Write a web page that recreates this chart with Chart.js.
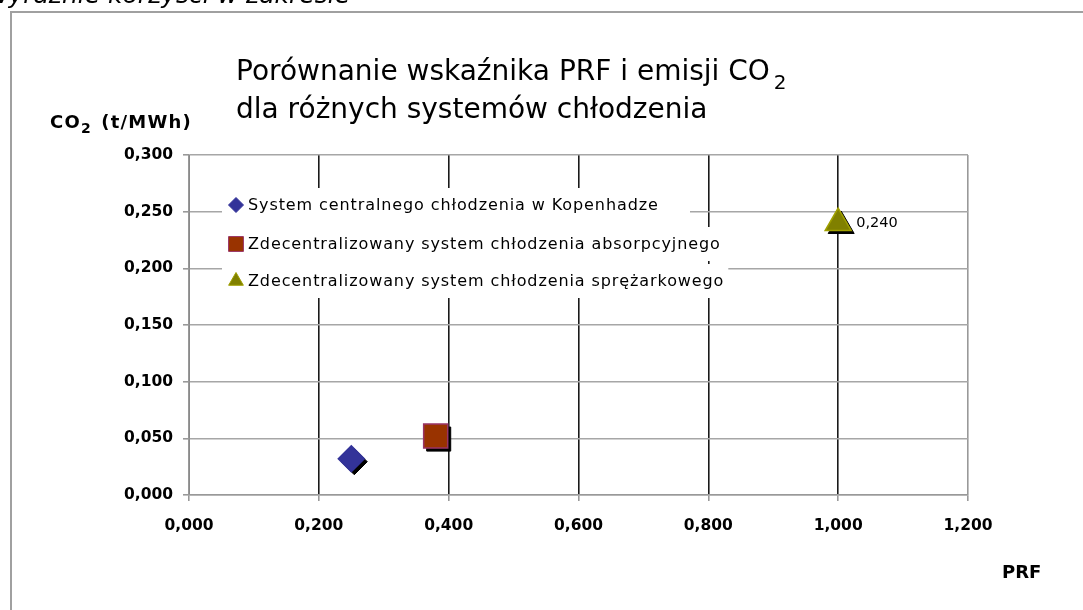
<!DOCTYPE html>
<html>
<head>
<meta charset="utf-8">
<script src="https://cdn.jsdelivr.net/npm/chart.js@4.4.0/dist/chart.umd.min.js"></script>
<style>
  html, body { margin: 0; padding: 0; background: #fff; }
  #wrap { width: 1083px; height: 610px; }
</style>
</head>
<body>
<div id="wrap"><canvas id="myChart" width="1083" height="610"></canvas></div>
<script>
'use strict'

// data
const seriesNames = [
  'System centralnego chłodzenia w Kopenhadze',
  'Zdecentralizowany system chłodzenia absorpcyjnego',
  'Zdecentralizowany system chłodzenia sprężarkowego'
];
const prfValues = [0.25, 0.38, 1.0];
const co2Values = [0.032, 0.052, 0.240];
const xTicks = [0, 0.2, 0.4, 0.6, 0.8, 1.0, 1.2];
const yTicks = [0, 0.05, 0.1, 0.15, 0.2, 0.25, 0.3];
const labelledPoint = 2; // only the last series carries a value label

const pointStyles = ['rectRot', 'rect', 'triangle'];
const fills = ['#333399', '#993300', '#808000'];
const borders = ['#333399', '#993366', '#a0a000'];
const radii = [13, 17, 15];
const legendRadii = [7.5, 10.5, 8.5];

const fmt = v => v.toFixed(3).replace('.', ',');

const ctx = document.getElementById('myChart');

// frame, stray text, titles
const decorations = {
  id: 'decorations',
  beforeDraw(chart) {
    const c = chart.ctx;
    c.save();
    c.fillStyle = '#fff';
    c.fillRect(0, 0, chart.width, chart.height);
    c.fillStyle = '#000';
    c.font = 'italic 25px "DejaVu Sans"';
    c.fillText('wyraźnie korzyści w zakresie', -12, 3);
    c.strokeStyle = '#a0a0a0';
    c.lineWidth = 2;
    c.beginPath();
    c.moveTo(11, 620);
    c.lineTo(11, 12);
    c.lineTo(1090, 12);
    c.stroke();
    c.restore();
  },
  afterDraw(chart) {
    const c = chart.ctx;
    c.save();
    c.fillStyle = '#000';
    // chart title, CO2 with a real subscript
    c.font = '28px "DejaVu Sans"';
    const t1 = 'Porównanie wskaźnika PRF i emisji CO';
    c.fillText(t1, 236, 80);
    const w1 = c.measureText(t1).width;
    c.font = '20px "DejaVu Sans"';
    c.fillText('2', 236 + w1 + 4, 89);
    c.font = '28px "DejaVu Sans"';
    c.fillText('dla różnych systemów chłodzenia', 236, 118);

    // axis titles
    c.font = 'bold 18px "DejaVu Sans"';
    c.letterSpacing = '1.2px';
    c.fillText('CO', 50, 128);
    let w = c.measureText('CO').width;
    c.font = 'bold 14px "DejaVu Sans"';
    c.fillText('2', 50 + w, 133);
    w += c.measureText('2').width + 2;
    c.font = 'bold 18px "DejaVu Sans"';
    c.fillText(' (t/MWh)', 50 + w, 128);
    c.letterSpacing = '0px';
    c.font = 'bold 18px "DejaVu Sans"';
    c.fillText('PRF', 1002, 578);

    // value label
    const p = chart.getDatasetMeta(labelledPoint).data[0];
    c.font = '14.5px "DejaVu Sans"';
    c.textBaseline = 'middle';
    c.fillText(fmt(co2Values[labelledPoint]), p.x + 18, p.y);
    c.restore();
  }
};

// legend drawn inside the plot, on a white ground
const innerLegend = {
  id: 'innerLegend',
  beforeDatasetsDraw(chart) {
    const c = chart.ctx;
    const x0 = 236, textX = 248, rows = [205, 244, 281];
    c.save();
    c.font = '16px "DejaVu Sans"';
    c.letterSpacing = '0.9px';
    c.fillStyle = '#fff';
    c.fillRect(222, 188, 468, 110);
    seriesNames.forEach((name, i) => {
      const w = c.measureText(name).width;
      c.fillRect(textX - 2, rows[i] - 17, w + 6, 34);
    });
    c.textBaseline = 'middle';
    seriesNames.forEach((name, i) => {
      c.fillStyle = fills[i];
      c.strokeStyle = borders[i];
      c.lineWidth = 1;
      Chart.helpers.drawPoint(c, {
        pointStyle: pointStyles[i], radius: legendRadii[i], rotation: 0, borderWidth: 1
      }, x0, rows[i]);
      c.fillStyle = '#000';
      c.fillText(name, textX, rows[i] + 1);
    });
    c.restore();
  }
};

// dark offset shape under each marker, like the old spreadsheet shadow
const markerShadow = {
  id: 'markerShadow',
  beforeDatasetDraw(chart, args) {
    const c = chart.ctx;
    const i = args.index;
    c.save();
    c.fillStyle = '#000';
    c.strokeStyle = '#000';
    args.meta.data.forEach(pt => {
      Chart.helpers.drawPoint(c, {
        pointStyle: pointStyles[i], radius: radii[i], rotation: 0, borderWidth: 1
      }, pt.x + 3, pt.y + 3);
    });
    c.restore();
  }
};

new Chart(ctx, {
  type: 'scatter',
  data: {
    datasets: seriesNames.map((name, i) => ({
      label: name,
      data: [{ x: prfValues[i], y: co2Values[i] }],
      pointStyle: pointStyles[i],
      pointRadius: radii[i],
      pointHoverRadius: radii[i],
      backgroundColor: fills[i],
      borderColor: borders[i],
      borderWidth: 1.5
    }))
  },
  options: {
    responsive: false,
    animation: false,
    layout: { padding: { left: 0, right: 115, top: 155, bottom: 0 } },
    plugins: {
      legend: { display: false },
      tooltip: { enabled: false }
    },
    scales: {
      x: {
        type: 'linear',
        min: 0,
        max: 1.2,
        afterBuildTicks: s => { s.ticks = xTicks.map(v => ({ value: v })); },
        afterFit: s => { s.height = 115; },
        grid: {
          color: c => (c.tick && c.tick.value > 1.1) ? '#999' : '#1a1a1a',
          tickColor: '#999',
          tickLength: 6,
          lineWidth: 1.6
        },
        border: { color: '#999', width: 1.6 },
        ticks: {
          padding: 16,
          color: '#000',
          font: { family: 'DejaVu Sans', weight: 'bold', size: 15.5 },
          callback: v => fmt(v)
        }
      },
      y: {
        type: 'linear',
        min: 0,
        max: 0.3,
        afterBuildTicks: s => { s.ticks = yTicks.map(v => ({ value: v })); },
        afterFit: s => { s.width = 189; },
        grid: {
          color: '#a6a6a6',
          tickColor: '#999',
          tickLength: 6,
          lineWidth: 1.6
        },
        border: { color: '#999', width: 1.6 },
        ticks: {
          padding: 10,
          color: '#000',
          font: { family: 'DejaVu Sans', weight: 'bold', size: 15.5 },
          callback: v => fmt(v)
        }
      }
    }
  },
  plugins: [decorations, innerLegend, markerShadow]
});
</script>
</body>
</html>
